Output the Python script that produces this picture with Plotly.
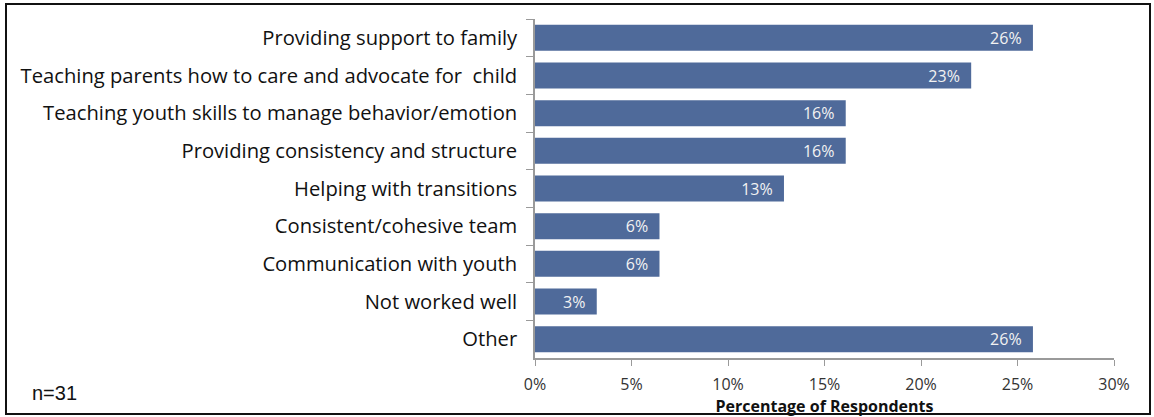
import plotly.graph_objects as go

categories = [
    "Providing support to family",
    "Teaching parents how to care and advocate for  child",
    "Teaching youth skills to manage behavior/emotion",
    "Providing consistency and structure",
    "Helping with transitions",
    "Consistent/cohesive team",
    "Communication with youth",
    "Not worked well",
    "Other",
]
values = [25.8, 22.6, 16.1, 16.1, 12.9, 6.45, 6.45, 3.2, 25.8]
value_labels = ["26%", "23%", "16%", "16%", "13%", "6%", "6%", "3%", "26%"]
tick_vals = [0, 5, 10, 15, 20, 25, 30]
tick_text = ["0%", "5%", "10%", "15%", "20%", "25%", "30%"]

W, H = 1154, 417
L, R, T, B = 535, 40, 19, 59
pw, ph = W - L - R, H - T - B

def px_x(p):
    return (p - L) / pw

def px_y(p):
    return (H - B - p) / ph

fig = go.Figure(go.Bar(
    y=categories, x=values, orientation="h",
    marker=dict(color="#4F6A9A", line=dict(width=0)),
    text=value_labels, texttemplate="%{text}\u00a0\u00a0",
    textposition="inside", insidetextanchor="end", constraintext="none",
    textfont=dict(color="#F2F2F2", size=16, family="Open Sans"),
    hoverinfo="skip",
))

fig.update_layout(
    width=W, height=H, margin=dict(l=L, r=R, t=T, b=B, autoexpand=False),
    paper_bgcolor="white", plot_bgcolor="white", bargap=0.31,
    showlegend=False,
    font=dict(family="Open Sans", color="#222222"),
    xaxis=dict(range=[0, 30], tickvals=tick_vals, ticktext=tick_text,
               showgrid=False, zeroline=False, showline=True,
               linecolor="#9a9a9a", linewidth=1.5, ticks="outside",
               ticklen=6, tickcolor="#9a9a9a", ticklabelstandoff=5,
               tickfont=dict(size=16, color="#333333", family="Open Sans"),
               title=dict(text="<b>Percentage of Respondents</b>",
                          font=dict(size=16, color="#111111", family="Open Sans"),
                          standoff=0)),
    yaxis=dict(autorange="reversed", showgrid=False, zeroline=False,
               showline=True, linecolor="#9a9a9a", linewidth=1.5,
               ticks="outside", ticklen=7, tickcolor="#9a9a9a",
               tickson="boundaries", ticklabelstandoff=12,
               tickfont=dict(size=20.2, color="#111111", family="Open Sans")),
    annotations=[dict(text="n=31", xref="paper", yref="paper",
                      x=px_x(30), y=px_y(393), xanchor="left", yanchor="middle",
                      showarrow=False,
                      font=dict(size=20, family="Liberation Sans", color="#111111"))],
    shapes=[dict(type="rect", xref="paper", yref="paper",
                 x0=px_x(6), x1=px_x(1150), y0=px_y(414), y1=px_y(4),
                 line=dict(color="#111111", width=2))],
)

fig.write_html("out.html")
